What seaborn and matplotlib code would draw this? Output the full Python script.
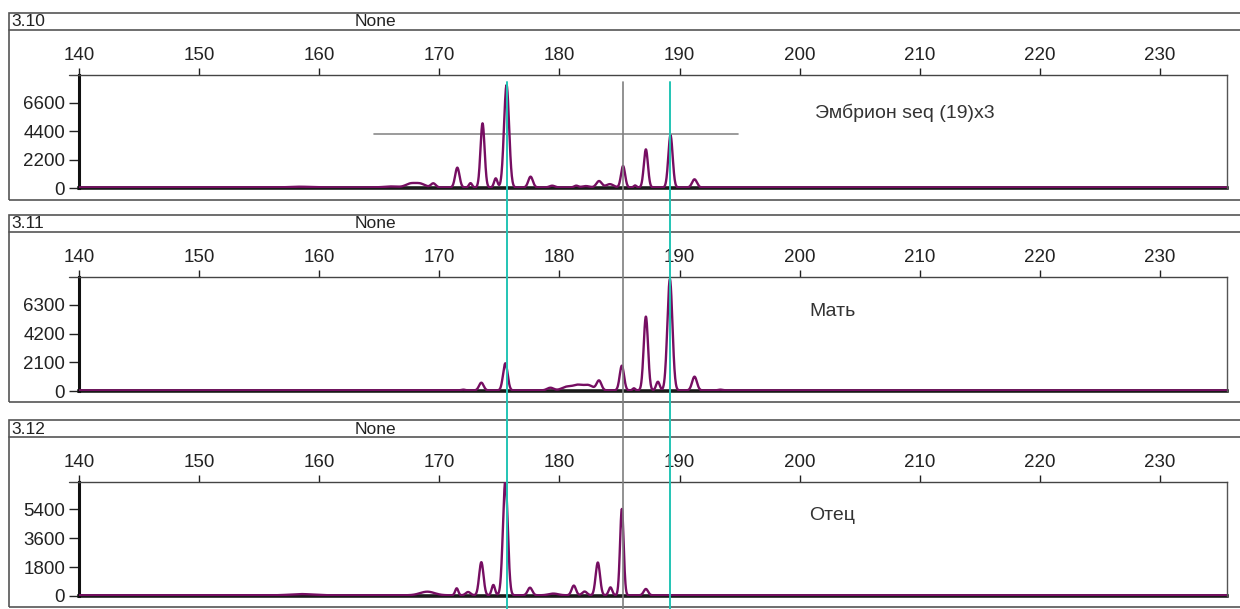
import numpy as np
import pandas as pd
import matplotlib
matplotlib.use("Agg")
import matplotlib.pyplot as plt
from matplotlib.lines import Line2D
from matplotlib.patches import Rectangle
from matplotlib.transforms import blended_transform_factory
import seaborn as sns

# ---------------- data ----------------
panel_ids = ["3.10", "3.11", "3.12"]
panel_names = ["Эмбрион seq (19)x3", "Мать", "Отец"]
header_note = "None"

x_ticks = [140, 150, 160, 170, 180, 190, 200, 210, 220, 230]
y_ticks_1 = [0, 2200, 4400, 6600]
y_ticks_2 = [0, 2100, 4200, 6300]
y_ticks_3 = [0, 1800, 3600, 5400]
y_top = [8770, 8350, 7110]

# peak positions (bp), heights (RFU), widths (bp)
emb_pos = [158.4, 166.0, 167.6, 168.4, 169.5, 171.5, 172.6, 173.6, 174.7, 175.6,
           177.6, 179.4, 181.4, 182.2, 183.3, 184.2, 185.3, 186.3, 187.2, 189.25, 191.25]
emb_h = [100, 120, 330, 330, 360, 1580, 380, 5020, 750, 7990,
         880, 180, 180, 150, 540, 300, 1710, 200, 3000, 4100, 675]
emb_w = [0.8, 0.6, 0.4, 0.4, 0.2, 0.18, 0.13, 0.17, 0.14, 0.21,
         0.19, 0.22, 0.17, 0.3, 0.22, 0.3, 0.17, 0.11, 0.17, 0.18, 0.2]

mat_pos = [172.0, 173.5, 175.5, 179.25, 180.6, 181.5, 182.4, 183.3, 185.2, 186.2,
           187.2, 188.2, 189.2, 191.25, 193.4]
mat_h = [100, 610, 2030, 240, 300, 420, 420, 750, 1855, 200,
         5450, 680, 8190, 1050, 100]
mat_w = [0.16, 0.19, 0.19, 0.27, 0.4, 0.4, 0.4, 0.2, 0.18, 0.11,
         0.18, 0.15, 0.21, 0.2, 0.17]

fat_pos = [158.5, 169.0, 171.45, 172.4, 173.5, 174.5, 175.5, 177.55, 179.5, 181.2,
           182.1, 183.2, 184.25, 185.2, 187.2]
fat_h = [120, 270, 480, 250, 2110, 690, 7200, 520, 150, 650,
         280, 2090, 540, 5430, 440]
fat_w = [0.9, 0.6, 0.13, 0.2, 0.18, 0.14, 0.2, 0.19, 0.4, 0.18,
         0.2, 0.18, 0.15, 0.15, 0.18]

baseline = 45
threshold_value = 4190
threshold_range = [164.6, 194.9]
cyan_marks = [175.65, 189.25]
gray_mark = 185.3

# ---------------- style ----------------
sns.set_style("white")
plt.rcParams["font.family"] = ["Liberation Sans", "DejaVu Sans"]
TXT = "#222222"
PURPLE = "#760e62"
CYAN = "#22c4b4"

W, H = 1240, 609
fig = plt.figure(figsize=(W / 100, H / 100), dpi=100)

def fx(px):
    return px / W

def fy(py):
    return 1 - py / H

xs = np.arange(140, 236.0, 0.02)

def trace(pos, hts, wds):
    y = np.full_like(xs, baseline, dtype=float)
    for p, h, w in zip(pos, hts, wds):
        y += (h - baseline) * np.exp(-0.5 * ((xs - p) / w) ** 2)
    return y

panels = [
    dict(top=75, bot=188, box=(13, 30, 200), pos=emb_pos, h=emb_h, w=emb_w, yt=y_ticks_1),
    dict(top=277, bot=391, box=(215, 232, 402), pos=mat_pos, h=mat_h, w=mat_w, yt=y_ticks_2),
    dict(top=482, bot=596, box=(420, 437, 607), pos=fat_pos, h=fat_h, w=fat_w, yt=y_ticks_3),
]

L, R = 79, 1227
axes = []
for i, pnl in enumerate(panels):
    # outer frame + header
    bt, hl, bb = pnl["box"]
    fig.add_artist(Rectangle((fx(9), fy(bb)), fx(1250) - fx(9), fy(bt) - fy(bb),
                             transform=fig.transFigure, fill=False, ec="#555555", lw=1.2))
    fig.add_artist(Line2D([fx(9), fx(1250)], [fy(hl), fy(hl)], transform=fig.transFigure,
                          color="#555555", lw=1.2))
    fig.text(fx(11), fy((bt + hl) / 2 + 0.5), panel_ids[i], fontsize=12.5, color=TXT,
             va="center", ha="left")
    fig.text(fx(355), fy((bt + hl) / 2 + 0.5), header_note, fontsize=12.5, color=TXT,
             va="center", ha="left")

    ax = fig.add_axes([fx(L), fy(pnl["bot"]), fx(R) - fx(L), fy(pnl["top"]) - fy(pnl["bot"])])
    axes.append(ax)
    df = pd.DataFrame({"bp": xs, "rfu": trace(pnl["pos"], pnl["h"], pnl["w"])})
    sns.lineplot(data=df, x="bp", y="rfu", ax=ax, color=PURPLE, lw=1.7, zorder=3)
    ax.set_xlim(140, 140 + (R - L) / 12.01)
    ax.set_ylim(0, y_top[i])
    ax.set_xlabel("")
    ax.set_ylabel("")
    ax.xaxis.tick_top()
    ax.set_xticks(x_ticks)
    ax.set_yticks(pnl["yt"])
    ax.set_yticklabels([str(v) for v in pnl["yt"]])
    ax.tick_params(axis="x", direction="out", length=5, width=1, pad=3, labelsize=13.5,
                   colors=TXT, top=True, bottom=False)
    ax.tick_params(axis="y", direction="out", length=7, width=1, pad=3, labelsize=13.5,
                   colors=TXT, left=True)
    for s in ["top", "right", "bottom", "left"]:
        ax.spines[s].set_visible(True)
    ax.spines["left"].set_linewidth(2.2)
    ax.spines["left"].set_color("#111111")
    ax.spines["top"].set_linewidth(1.0)
    ax.spines["top"].set_color("#444444")
    ax.spines["right"].set_linewidth(1.0)
    ax.spines["right"].set_color("#555555")
    ax.spines["bottom"].set_linewidth(2.6)
    ax.spines["bottom"].set_color("#1a1a1a")
    ax.spines["bottom"].set_zorder(2)
    # top spine extends slightly left of the plot
    fig.add_artist(Line2D([fx(69), fx(L)], [fy(pnl["top"]), fy(pnl["top"])],
                          transform=fig.transFigure, color="#444444", lw=1.0))
    ax.text(0.641 if i == 0 else 0.636, [0.664, 0.70, 0.71][i], panel_names[i],
            transform=ax.transAxes, fontsize=14, color="#333333", ha="left", va="center")

# threshold line in the embryo panel
axes[0].plot(threshold_range, [threshold_value, threshold_value], color="#8a8a8a", lw=1.2, zorder=2)

# vertical marker lines spanning all panels
tr = blended_transform_factory(axes[0].transData, fig.transFigure)
for xm in cyan_marks:
    fig.add_artist(Line2D([xm, xm], [0, fy(82)], transform=tr, color=CYAN, lw=1.4, zorder=5))
fig.add_artist(Line2D([gray_mark, gray_mark], [0, fy(82)], transform=tr, color="#7f7f7f", lw=1.2, zorder=5))

fig.savefig("out.png", dpi=100)
